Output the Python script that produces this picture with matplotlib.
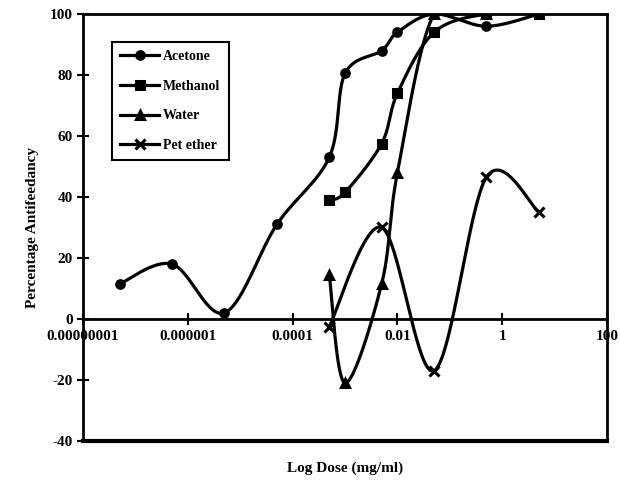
import numpy as np
import matplotlib.pyplot as plt
from matplotlib.lines import Line2D

plt.rcParams['font.family'] = ['Liberation Serif', 'DejaVu Serif']
plt.rcParams['font.weight'] = 'bold'
plt.rcParams['axes.unicode_minus'] = False

# doses (mg/ml) and percentage antifeedancy
dose_acetone = [5e-8, 5e-7, 5e-6, 5e-5, 5e-4, 1e-3, 5e-3, 1e-2, 5e-2, 5e-1, 5]
acetone = [11.5, 18, 2, 31, 53, 80.5, 88, 94, 100, 96, 100]

dose_methanol = [5e-4, 1e-3, 5e-3, 1e-2, 5e-2, 5e-1, 5]
methanol = [39, 41.5, 57.5, 74, 94, 100, 100]

dose_water = [5e-4, 1e-3, 5e-3, 1e-2, 5e-2, 5e-1]
water = [14.5, -21, 11.5, 48, 100, 100]

dose_pet = [5e-4, 5e-3, 5e-2, 5e-1, 5]
pet_ether = [-2.5, 30, -17, 46.5, 35]

x_ticks = [1e-8, 1e-6, 1e-4, 1e-2, 1, 100]
x_tick_labels = ['0.00000001', '0.000001', '0.0001', '0.01', '1', '100']


def smooth(xs, ys, n=40):
    # Excel-style smoothed line (Catmull-Rom Bezier) in log-x space
    p = np.column_stack([np.log10(xs), np.asarray(ys, float)])
    pts = np.vstack([p[0], p, p[-1]])
    t = np.linspace(0, 1, n)[:, None]
    segs = []
    for i in range(1, len(pts) - 2):
        p0, p1, p2, p3 = pts[i - 1], pts[i], pts[i + 1], pts[i + 2]
        b1 = p1 + (p2 - p0) / 6
        b2 = p2 - (p3 - p1) / 6
        segs.append((1 - t) ** 3 * p1 + 3 * (1 - t) ** 2 * t * b1
                    + 3 * (1 - t) * t ** 2 * b2 + t ** 3 * p2)
    c = np.vstack(segs)
    return 10 ** c[:, 0], c[:, 1]


fig = plt.figure(figsize=(6.2, 4.84), dpi=100)
ax = fig.add_axes([0.134, 0.089, 0.845, 0.882])

series = [
    (dose_acetone, acetone, 'o', 5.5, 'Acetone'),
    (dose_methanol, methanol, 's', 5.5, 'Methanol'),
    (dose_water, water, '^', 5.5, 'Water'),
    (dose_pet, pet_ether, 'x', 6.5, 'Pet ether'),
]
handles = []
for xs, ys, m, ms, name in series:
    sx, sy = smooth(xs, ys)
    ax.plot(sx, sy, color='black', lw=2.3)
    ax.plot(xs, ys, ls='none', marker=m, ms=ms, color='black', mew=2.2)
    handles.append(Line2D([], [], color='black', lw=2.3, marker=m, ms=ms,
                          mew=2.2, label=name))

ax.set_xscale('log')
ax.set_xlim(1e-8, 100)
ax.set_ylim(-40, 100)
ax.set_xticks(x_ticks)
ax.set_xticklabels(x_tick_labels)
ax.xaxis.set_minor_locator(plt.NullLocator())
ax.set_yticks(range(-40, 101, 20))

ax.spines['bottom'].set_position(('data', 0))
for s in ax.spines.values():
    s.set_linewidth(2)
ax.axhline(-40, color='black', lw=3, clip_on=False)
ax.tick_params(direction='inout', length=8, width=1.5, labelsize=11)
ax.tick_params(axis='x', pad=4)
for lab in ax.get_xticklabels() + ax.get_yticklabels():
    lab.set_fontweight('bold')

ax.set_ylabel('Percentage Antifeedancy', fontsize=11, fontweight='bold', labelpad=8)
fig.text(0.556, 0.033, 'Log Dose (mg/ml)', ha='center', va='center',
         fontsize=11, fontweight='bold')

leg = ax.legend(handles=handles, loc='upper left', bbox_to_anchor=(0.055, 0.935),
                borderaxespad=0, fancybox=False, edgecolor='black', framealpha=1,
                prop={'weight': 'bold', 'size': 10}, handlelength=2.8,
                borderpad=0.6, labelspacing=1.2, handletextpad=0.3)
leg.get_frame().set_linewidth(1.5)

fig.savefig('out.png', dpi=100)
